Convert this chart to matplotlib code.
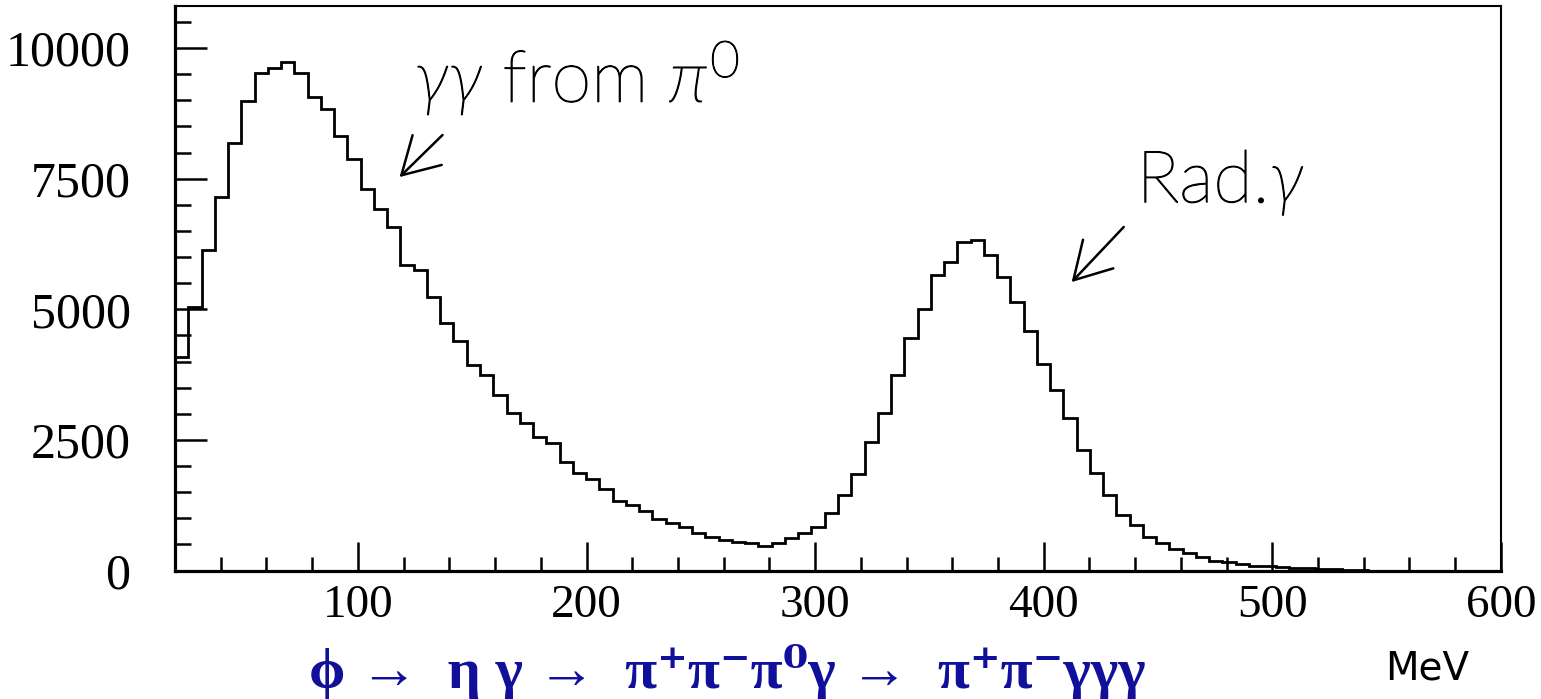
import numpy as np
import matplotlib
matplotlib.use("Agg")
import matplotlib.pyplot as plt
import matplotlib.patheffects as pe
from matplotlib.ticker import MultipleLocator

# photon energy histogram, 100 bins from 20 to 600 MeV
x_lo, x_hi, n_bins = 20, 600, 100
counts = [
    4090, 5050, 6130, 7150, 8180, 8990, 9520, 9620, 9740, 9520,
    9070, 8830, 8320, 7880, 7300, 6920, 6570, 5850, 5750, 5230,
    4740, 4400, 3930, 3740, 3360, 3010, 2820, 2560, 2440, 2080,
    1870, 1750, 1560, 1330, 1250, 1140, 990, 910, 830, 720,
    640, 585, 545, 525, 470, 525, 620, 718, 833, 1100,
    1445, 1850, 2460, 3010, 3740, 4450, 5000, 5650, 5900, 6290,
    6330, 6040, 5620, 5140, 4580, 3950, 3460, 2920, 2300, 1860,
    1450, 1070, 880, 635, 530, 410, 330, 250, 180, 155,
    120, 95, 80, 65, 50, 40, 30, 20, 15, 10,
    0, 0, 0, 0, 0, 0, 0, 0, 0, 0,
]
x_ticks = [100, 200, 300, 400, 500, 600]
x_labels = ["100", "200", "300", "400", "500", "600"]
y_ticks = [0, 2500, 5000, 7500, 10000]
y_labels = ["0", "2500", "5000", "7500", "10000"]

label_pi0 = r"$\gamma\gamma$ from $\pi^0$"
label_rad = r"Rad.$\gamma$"
decay_chain = "ϕ →  η γ →  π⁺π⁻π⁰γ →  π⁺π⁻γγγ"
unit_label = "MeV"

plt.rcParams["mathtext.fontset"] = "custom"
plt.rcParams["mathtext.rm"] = "Lato:light"
plt.rcParams["mathtext.it"] = "Lato:italic:light"

fig = plt.figure(figsize=(15.41, 6.99), dpi=100)
ax = fig.add_axes([0.1136, 0.1838, 0.8604, 0.8073])

edges = np.linspace(x_lo, x_hi, n_bins + 1)
ax.stairs(counts, edges, color="black", linewidth=2.0)

ax.set_xlim(x_lo, x_hi)
ax.set_ylim(0, 10800)

ax.set_xticks(x_ticks, labels=x_labels)
ax.xaxis.set_minor_locator(MultipleLocator(20))
ax.set_yticks(y_ticks, labels=y_labels)
ax.yaxis.set_minor_locator(MultipleLocator(500))

ax.tick_params(axis="both", which="both", direction="in", width=1.8,
               top=False, right=False)
ax.tick_params(axis="x", which="major", length=21, pad=10)
ax.tick_params(axis="x", which="minor", length=10)
ax.tick_params(axis="y", which="major", length=23, pad=32)
ax.tick_params(axis="y", which="minor", length=11.5)
for lab in ax.get_xticklabels():
    lab.set_fontfamily("Liberation Serif")
    lab.set_fontsize(34)
for lab in ax.get_yticklabels():
    lab.set_fontfamily("Liberation Serif")
    lab.set_fontsize(36)

ax.spines["left"].set_linewidth(2.3)
ax.spines["bottom"].set_linewidth(2.3)
ax.spines["top"].set_linewidth(1.5)
ax.spines["right"].set_linewidth(1.5)

# annotations
arrow = dict(arrowstyle="->, head_length=2.6, head_width=1.5",
             color="black", lw=1.8, mutation_scale=10, shrinkA=0, shrinkB=0)
ax.annotate("", xy=(118.2, 7530), xytext=(137.0, 8335), arrowprops=arrow)
ax.annotate("", xy=(412.2, 5520), xytext=(435.0, 6575), arrowprops=arrow)
thin = [pe.withStroke(linewidth=0.9, foreground="black")]
ax.text(124.7, 8970, label_pi0, fontsize=52, family=["Lato", "DejaVu Sans"],
        fontweight="light", ha="left", va="baseline", path_effects=thin)
ax.text(440.6, 7050, label_rad, fontsize=52, family=["Lato", "DejaVu Sans"],
        fontweight="light", ha="left", va="baseline", path_effects=thin)

fig.text(309 / 1541, 1 - 672 / 699, decay_chain, color="#10109a",
         fontsize=42, fontweight="bold",
         family=["Liberation Serif", "DejaVu Serif"], ha="left", va="center")
fig.text(1385 / 1541, 1 - 668 / 699, unit_label, color="black",
         fontsize=28, family="DejaVu Sans", ha="left", va="center")

fig.savefig("out.png", dpi=100)
